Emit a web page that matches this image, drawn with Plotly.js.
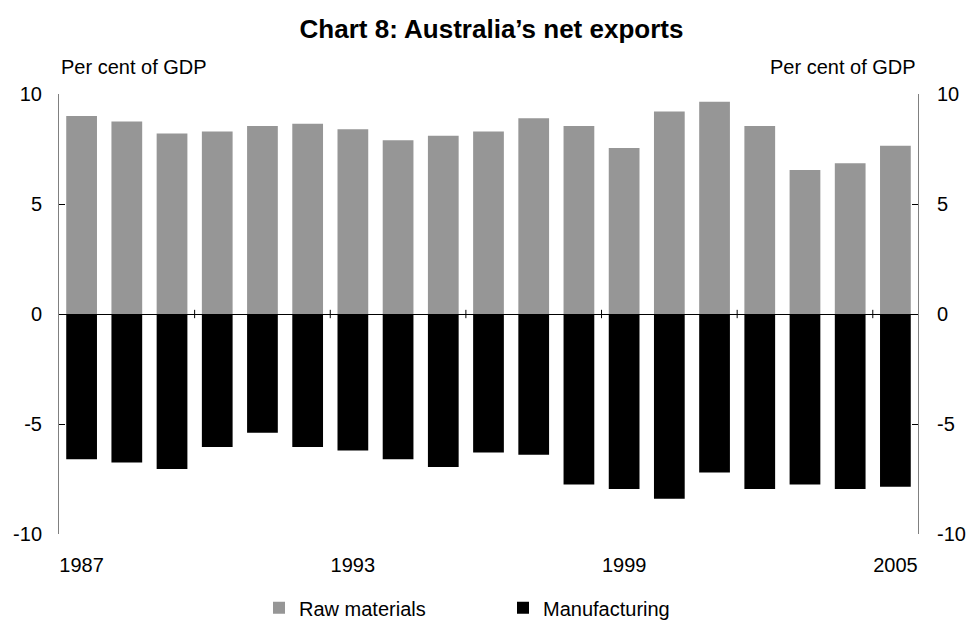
<!DOCTYPE html>
<html>
<head>
<meta charset="utf-8">
<script src="https://cdn.plot.ly/plotly-3.0.1.min.js"></script>
<style>html,body{margin:0;padding:0;background:#fff;}#chart{width:967px;height:626px;}</style>
</head>
<body>
<div id="chart"></div>
<script>
var years = [1987,1988,1989,1990,1991,1992,1993,1994,1995,1996,1997,1998,1999,2000,2001,2002,2003,2004,2005];
var rawMaterials = [9.0,8.75,8.2,8.3,8.55,8.65,8.4,7.9,8.1,8.3,8.9,8.55,7.55,9.2,9.65,8.55,6.55,6.85,7.65];
var manufacturing = [-6.6,-6.75,-7.05,-6.05,-5.4,-6.05,-6.2,-6.6,-6.95,-6.3,-6.4,-7.75,-7.95,-8.4,-7.2,-7.95,-7.75,-7.95,-7.85];
var xTickLabels = ['1987','1993','1999','2005'];
var xTickYears = [1987,1993,1999,2005];
var yTickVals = [-10,-5,0,5,10];
var yTickLabels = ['-10','-5','0','5','10'];
var boundaryYears = [1989.5,1992.5,1995.5,1998.5,2001.5,2004.5];

var FONT = 'Arial, "Liberation Sans", sans-serif';

var traces = [
  {type:'bar', name:'Raw materials', x:years, y:rawMaterials, width:0.68,
   marker:{color:'#969696', line:{width:0}}, hoverinfo:'skip'},
  {type:'bar', name:'Manufacturing', x:years, y:manufacturing, width:0.68,
   marker:{color:'#000000', line:{width:0}}, hoverinfo:'skip'},
  {type:'scatter', x:[years[0]], y:[0], yaxis:'y2', showlegend:false,
   mode:'markers', marker:{opacity:0}, hoverinfo:'skip'}
];

var shapes = boundaryYears.map(function(b){
  return {type:'line', xref:'x', yref:'y', x0:b, x1:b, y0:-0.19, y1:0.19,
          line:{color:'#000', width:1}};
});

var layout = {
  width:967, height:626,
  margin:{l:59, r:49, t:94, b:92, autoexpand:false},
  paper_bgcolor:'#fff', plot_bgcolor:'#fff',
  font:{family:FONT, size:20, color:'#000'},
  barmode:'relative',
  title:{text:'<b>Chart 8: Australia\u2019s net exports</b>', font:{family:FONT, size:26, color:'#000'},
         x:491.5/967, xanchor:'center', y:1-29/626, yanchor:'middle'},
  xaxis:{range:[1986.5,2005.5], tickvals:xTickYears, ticktext:xTickLabels,
         ticks:'', showline:false, showgrid:false, zeroline:false,
         ticklabelstandoff:17, tickfont:{size:20}},
  yaxis:{range:[-10,10], tickvals:yTickVals, ticktext:yTickLabels, ticks:'inside', ticklen:6, tickcolor:'#000',
         showline:true, linecolor:'#808080', linewidth:1, showgrid:false,
         zeroline:true, zerolinecolor:'#000', zerolinewidth:1,
         ticklabelstandoff:12, tickfont:{size:20}},
  yaxis2:{range:[-10,10], tickvals:yTickVals, ticktext:yTickLabels, overlaying:'y', side:'right',
          ticks:'inside', ticklen:6, tickcolor:'#000',
          showline:true, linecolor:'#808080', linewidth:1, showgrid:false, zeroline:false,
          ticklabelstandoff:14, tickfont:{size:20}},
  showlegend:true,
  legend:{orientation:'h', x:(259-59)/859, xanchor:'left', y:-0.1675, yanchor:'middle',
          font:{size:20}, entrywidth:199, entrywidthmode:'pixels', traceorder:'normal',
          bgcolor:'rgba(0,0,0,0)'},
  shapes:shapes,
  annotations:[
    {text:'Per cent of GDP', xref:'paper', yref:'paper', x:0, y:(534.3-67)/440,
     xanchor:'left', yanchor:'middle', showarrow:false, font:{size:20}},
    {text:'Per cent of GDP', xref:'paper', yref:'paper', x:1, y:(534.3-67)/440,
     xanchor:'right', yanchor:'middle', showarrow:false, font:{size:20}}
  ]
};

Plotly.newPlot('chart', traces, layout, {displayModeBar:false, staticPlot:true});
</script>
</body>
</html>
